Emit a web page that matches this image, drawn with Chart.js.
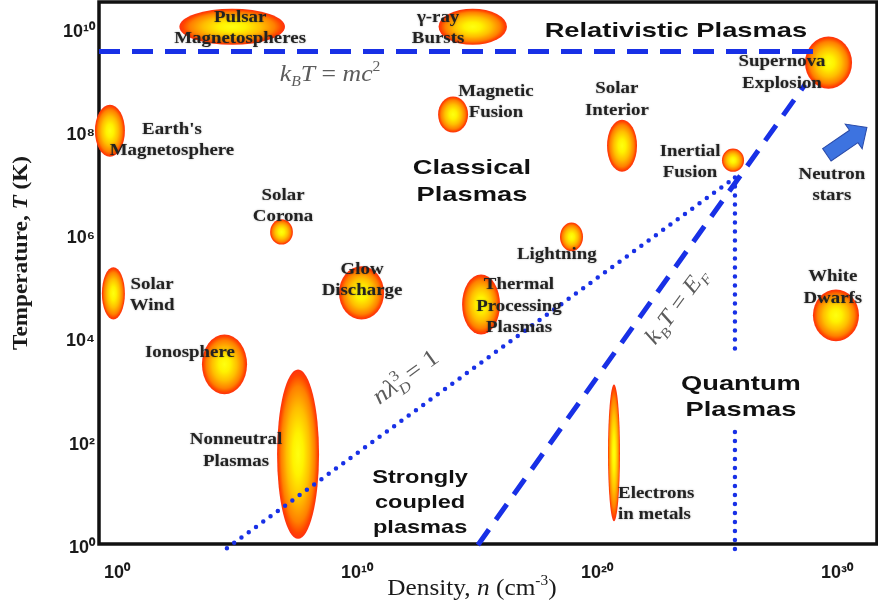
<!DOCTYPE html>
<html>
<head>
<meta charset="utf-8">
<script src="https://cdn.jsdelivr.net/npm/chart.js@4.4.1/dist/chart.umd.min.js"></script>
<style>
  html, body { margin: 0; padding: 0; background: #fff; }
  canvas { display: block; }
</style>
</head>
<body>
<canvas id="plasmaChart" width="878" height="606"></canvas>
<script>
// All values are decimal exponents: x = log10 n (cm^-3), y = log10 T (K).

// Axis ticks
const densityTicks = [0, 10, 20, 30];
const temperatureTicks = [0, 2, 4, 6, 8, 10];

// Plasma regimes: name, density range, temperature range
const regionNames = [
  'Pulsar Magnetospheres', 'γ-ray Bursts', 'Supernova Explosion', "Earth's Magnetosphere",
  'Magnetic Fusion', 'Solar Interior', 'Inertial Fusion', 'Solar Corona',
  'Lightning', 'Solar Wind', 'Ionosphere', 'Glow Discharge',
  'Thermal Processing Plasmas', 'White Dwarfs', 'Nonneutral Plasmas', 'Electrons in metals'
];
const regionDensity = [
  [2.6, 7.0], [13.4, 16.25], [28.67, 30.63], [-0.92, 0.33],
  [13.38, 14.63], [20.42, 21.67], [25.21, 26.13], [6.38, 7.33],
  [18.46, 19.42], [-0.63, 0.33], [3.54, 5.42], [9.25, 11.13],
  [14.38, 15.96], [29.0, 30.92], [6.67, 8.42], [20.46, 20.96]
];
const regionTemperature = [
  [9.67, 10.37], [9.67, 10.37], [8.82, 9.83], [7.5, 8.51],
  [7.97, 8.67], [7.21, 8.22], [7.21, 7.66], [5.8, 6.29],
  [5.67, 6.23], [4.35, 5.36], [2.9, 4.06], [4.35, 5.38],
  [4.06, 5.22], [3.93, 4.93], [0.1, 3.38], [0.44, 3.09]
];

// Boundary lines
const mc2Density = [-0.75, 29.0];          // k_B T = m c^2
const mc2Temperature = [9.54, 9.54];
const debyeDensity = [4.58, 25.75];        // n λ_D^3 = 1
const debyeTemperature = [-0.08, 7.1];
const fermiDensity = [15.04, 28.67];       // k_B T = E_F
const fermiTemperature = [-0.02, 8.9];
const quantumDensity = [25.75, 25.75, 25.75, 25.75, 25.75];   // quantum limit (broken around its label)
const quantumTemperature = [7.1, 3.62, null, 2.17, -0.14];

// Neutron-star arrow: tail and head
const neutronArrowDensity = [29.58, 31.25];
const neutronArrowTemperature = [7.54, 8.07];

// Annotation layout (anchors in the same exponent units)
const regionLabels = [
  { lines: ['Pulsar', 'Magnetospheres'], at: [5.13, 9.99] },
  { lines: ['γ-ray', 'Bursts'], at: [13.38, 9.99] },
  { lines: ['Supernova', 'Explosion'], at: [27.71, 9.13] },
  { lines: ["Earth's", 'Magnetosphere'], at: [2.29, 7.82] },
  { lines: ['Magnetic', 'Fusion'], at: [15.79, 8.56] },
  { lines: ['Solar', 'Interior'], at: [20.83, 8.6] },
  { lines: ['Inertial', 'Fusion'], at: [23.88, 7.39] },
  { lines: ['Neutron', 'stars'], at: [29.79, 6.95] },
  { lines: ['Solar', 'Corona'], at: [6.92, 6.54] },
  { lines: ['Lightning'], at: [18.33, 5.61] },
  { lines: ['Glow', 'Discharge'], at: [10.21, 5.11] },
  { lines: ['Thermal', 'Processing', 'Plasmas'], at: [16.75, 4.6] },
  { lines: ['Solar', 'Wind'], at: [1.46, 4.82] },
  { lines: ['Ionosphere'], at: [3.04, 3.71] },
  { lines: ['White', 'Dwarfs'], at: [29.83, 4.96] },
  { lines: ['Nonneutral', 'Plasmas'], at: [4.96, 1.8] },
  { lines: ['Electrons', 'in metals'], at: [20.88, 0.77], align: 'left' }
];
const regimeLabels = [
  { lines: ['Relativistic Plasmas'], at: [23.29, 9.94], size: 21, lh: 27 },
  { lines: ['Classical', 'Plasmas'], at: [14.79, 7.02], size: 21, lh: 27 },
  { lines: ['Quantum', 'Plasmas'], at: [26.0, 2.84], size: 21, lh: 26 },
  { lines: ['Strongly', 'coupled', 'plasmas'], at: [12.63, 0.8], size: 19, lh: 25 }
];

const BLUE = '#1830e6';
const SERIF = '"Liberation Serif", "Times New Roman", serif';
const SANS = '"Liberation Sans", Arial, sans-serif';
const SUP = { '0': '⁰', '1': '¹', '2': '²', '3': '³', '4': '⁴', '5': '⁵', '6': '⁶', '7': '⁷', '8': '⁸', '9': '⁹' };
const pow10 = v => '10' + String(v).split('').map(c => SUP[c]).join('');
const points = (xs, ys) => xs.map((v, i) => ({ x: v, y: ys[i] }));

function drawLines(ctx, lines, px, py, font, sx, lh, align, color, shadow) {
  ctx.save();
  ctx.font = font;
  ctx.fillStyle = color;
  ctx.textBaseline = 'middle';
  ctx.textAlign = align;
  if (shadow) { ctx.shadowColor = 'rgba(0,0,0,0.35)'; ctx.shadowBlur = 2; }
  ctx.translate(px, py - (lines.length - 1) * lh / 2);
  ctx.scale(sx, 1);
  lines.forEach((l, k) => ctx.fillText(l, 0, k * lh));
  ctx.restore();
}

// Inline formula: parts are [text, kind]; kinds: i (italic), r (roman),
// sub, sup, subStack (subscript that does not advance, so the next sup sits above it)
function drawFormula(ctx, parts, px, py, size, angle, sx, color, weight) {
  const w = weight || 'normal';
  const fontFor = k => {
    if (k === 'sub' || k === 'subStack') return `italic ${w} ${Math.round(size * 0.62)}px ${SERIF}`;
    if (k === 'sup') return `${w} ${Math.round(size * 0.62)}px ${SERIF}`;
    if (k === 'i') return `italic ${w} ${size}px ${SERIF}`;
    return `${w} ${size}px ${SERIF}`;
  };
  ctx.save();
  ctx.translate(px, py);
  ctx.rotate(angle);
  ctx.scale(sx, 1);
  ctx.fillStyle = color;
  ctx.textBaseline = 'alphabetic';
  ctx.textAlign = 'left';
  const widths = parts.map(([t, k]) => { ctx.font = fontFor(k); return k === 'subStack' ? 0 : ctx.measureText(t).width; });
  let cur = -widths.reduce((a, b) => a + b, 0) / 2;
  const base = size * 0.34;
  parts.forEach(([t, k], i) => {
    ctx.font = fontFor(k);
    let dy = 0;
    if (k === 'sub' || k === 'subStack') dy = size * 0.25;
    if (k === 'sup') dy = -size * 0.42;
    ctx.fillText(t, cur, base + dy);
    cur += widths[i];
  });
  ctx.restore();
}

const plasmaSketch = {
  id: 'plasmaSketch',
  beforeDatasetsDraw(chart) {
    const { ctx, chartArea: a, scales: { x, y } } = chart;
    // plot frame
    ctx.save();
    ctx.strokeStyle = '#111';
    ctx.lineWidth = 3.5;
    ctx.strokeRect(a.left, a.top, a.right - a.left, a.bottom - a.top);
    ctx.restore();

    // plasma regimes as shaded ellipses spanning their density / temperature ranges
    regionNames.forEach((name, i) => {
      const [n0, n1] = regionDensity[i];
      const [t0, t1] = regionTemperature[i];
      const px0 = x.getPixelForValue(n0), px1 = x.getPixelForValue(n1);
      const pyTop = y.getPixelForValue(t1), pyBot = y.getPixelForValue(t0);
      const cx = (px0 + px1) / 2, cy = (pyTop + pyBot) / 2;
      const rx = (px1 - px0) / 2, ry = (pyBot - pyTop) / 2;
      ctx.save();
      ctx.filter = 'blur(0.6px)';
      ctx.translate(cx, cy);
      ctx.scale(rx, ry);
      const g = ctx.createRadialGradient(0, 0, 0, 0, 0, 1);
      g.addColorStop(0, '#ffff10');
      g.addColorStop(0.25, '#fff200');
      g.addColorStop(0.55, '#ffbe00');
      g.addColorStop(0.8, '#ff8000');
      g.addColorStop(0.93, '#ff4500');
      g.addColorStop(1, '#ff3010');
      ctx.fillStyle = g;
      ctx.beginPath();
      ctx.arc(0, 0, 1, 0, Math.PI * 2);
      ctx.fill();
      ctx.restore();
    });
  },
  afterDatasetsDraw(chart) {
    const { ctx, chartArea: a, scales: { x, y } } = chart;

    // neutron-star arrow
    const tx = x.getPixelForValue(neutronArrowDensity[0]), ty = y.getPixelForValue(neutronArrowTemperature[0]);
    const hx = x.getPixelForValue(neutronArrowDensity[1]), hy = y.getPixelForValue(neutronArrowTemperature[1]);
    const len = Math.hypot(hx - tx, hy - ty), ang = Math.atan2(hy - ty, hx - tx);
    const shaft = 7.5, head = 15, headLen = 16;
    ctx.save();
    ctx.translate(tx, ty);
    ctx.rotate(ang);
    ctx.beginPath();
    ctx.moveTo(0, -shaft);
    ctx.lineTo(len - headLen, -shaft);
    ctx.lineTo(len - headLen, -head);
    ctx.lineTo(len, 0);
    ctx.lineTo(len - headLen, head);
    ctx.lineTo(len - headLen, shaft);
    ctx.lineTo(0, shaft);
    ctx.closePath();
    ctx.fillStyle = '#3d73e0';
    ctx.fill();
    ctx.strokeStyle = '#2a4aa8';
    ctx.lineWidth = 1;
    ctx.stroke();
    ctx.restore();

    // region names
    regionLabels.forEach(l => {
      drawLines(ctx, l.lines, x.getPixelForValue(l.at[0]), y.getPixelForValue(l.at[1]),
        `bold 16px ${SERIF}`, 1.18, 21.5, l.align || 'center', '#222', true);
    });
    // regime names
    regimeLabels.forEach(l => {
      drawLines(ctx, l.lines, x.getPixelForValue(l.at[0]), y.getPixelForValue(l.at[1]),
        `bold ${l.size}px ${SANS}`, l.size === 19 ? 1.24 : 1.3, l.lh, 'center', '#111', false);
    });

    // boundary formulas
    const grey = '#5c5c5c';
    drawFormula(ctx, [['k', 'i'], ['B', 'sub'], ['T', 'i'], [' = ', 'r'], ['mc', 'i'], ['2', 'sup']],
      x.getPixelForValue(8.88), y.getPixelForValue(9.13), 23, 0, 1.12, grey);
    drawFormula(ctx, [['n', 'i'], ['λ', 'i'], ['D', 'subStack'], ['3', 'sup'], [' = 1', 'r']],
      x.getPixelForValue(12.0), y.getPixelForValue(3.25), 24, -0.63, 1.12, grey);
    drawFormula(ctx, [['k', 'i'], ['B', 'sub'], ['T', 'i'], [' = ', 'r'], ['E', 'i'], ['F', 'sub']],
      x.getPixelForValue(23.27), y.getPixelForValue(4.62), 23, -0.93, 1.12, grey);

    // axis titles
    ctx.save();
    ctx.translate(20, a.top + 251);
    ctx.rotate(-Math.PI / 2);
    drawFormula(ctx, [['Temperature, ', 'r'], ['T', 'i'], [' (K)', 'r']], 0, 0, 20, 0, 1.16, '#1a1a1a', 'bold');
    ctx.restore();
    drawFormula(ctx, [['Density, ', 'r'], ['n', 'i'], [' (cm', 'r'], ['-3', 'sup'], [')', 'r']],
      x.getPixelForValue(14.79), a.bottom + 43, 23, 0, 1.1, '#1a1a1a');
  }
};

const lineStyle = { showLine: true, pointRadius: 0, pointHoverRadius: 0, fill: false, clip: false, spanGaps: false };

// keep tick labels from reserving extra room at the ends of each axis
const noEndPadding = s => { s.paddingTop = 0; s.paddingBottom = 0; s.paddingLeft = 0; s.paddingRight = 0; };

new Chart(document.getElementById('plasmaChart'), {
  type: 'scatter',
  data: {
    datasets: [
      { ...lineStyle, label: 'k_B T = mc²', data: points(mc2Density, mc2Temperature),
        borderColor: BLUE, borderWidth: 5, borderDash: [21, 12] },
      { ...lineStyle, label: 'k_B T = E_F', data: points(fermiDensity, fermiTemperature),
        borderColor: BLUE, borderWidth: 5, borderDash: [19, 12] },
      { ...lineStyle, label: 'n λ_D³ = 1', data: points(debyeDensity, debyeTemperature),
        borderColor: BLUE, borderWidth: 4.5, borderDash: [0, 9], borderCapStyle: 'round' },
      { ...lineStyle, label: 'quantum limit', data: points(quantumDensity, quantumTemperature),
        borderColor: BLUE, borderWidth: 4.5, borderDash: [0, 9], borderCapStyle: 'round' }
    ]
  },
  options: {
    responsive: false,
    animation: false,
    devicePixelRatio: 1,
    layout: { padding: { top: 2, right: 1, left: 0, bottom: 0 } },
    plugins: { legend: { display: false }, tooltip: { enabled: false } },
    scales: {
      x: {
        type: 'linear', min: -0.75, max: 31.67,
        afterBuildTicks: s => { s.ticks = densityTicks.map(v => ({ value: v })); },
        afterFit: s => { s.height = 62; noEndPadding(s); },
        grid: { display: false, drawTicks: false },
        border: { display: false },
        ticks: { callback: v => pow10(v), padding: 18, maxRotation: 0, autoSkip: false,
          color: '#1a1a1a', font: { family: SANS, size: 18, weight: 'bold' } }
      },
      y: {
        type: 'linear', min: 0, max: 10.5,
        afterBuildTicks: s => { s.ticks = temperatureTicks.map(v => ({ value: v })); },
        afterFit: s => { s.width = 99; noEndPadding(s); },
        grid: { display: false, drawTicks: false },
        border: { display: false },
        ticks: { callback: v => pow10(v), padding: 4, labelOffset: 4, autoSkip: false,
          color: '#1a1a1a', font: { family: SANS, size: 18, weight: 'bold' } }
      }
    }
  },
  plugins: [plasmaSketch]
});
</script>
</body>
</html>
